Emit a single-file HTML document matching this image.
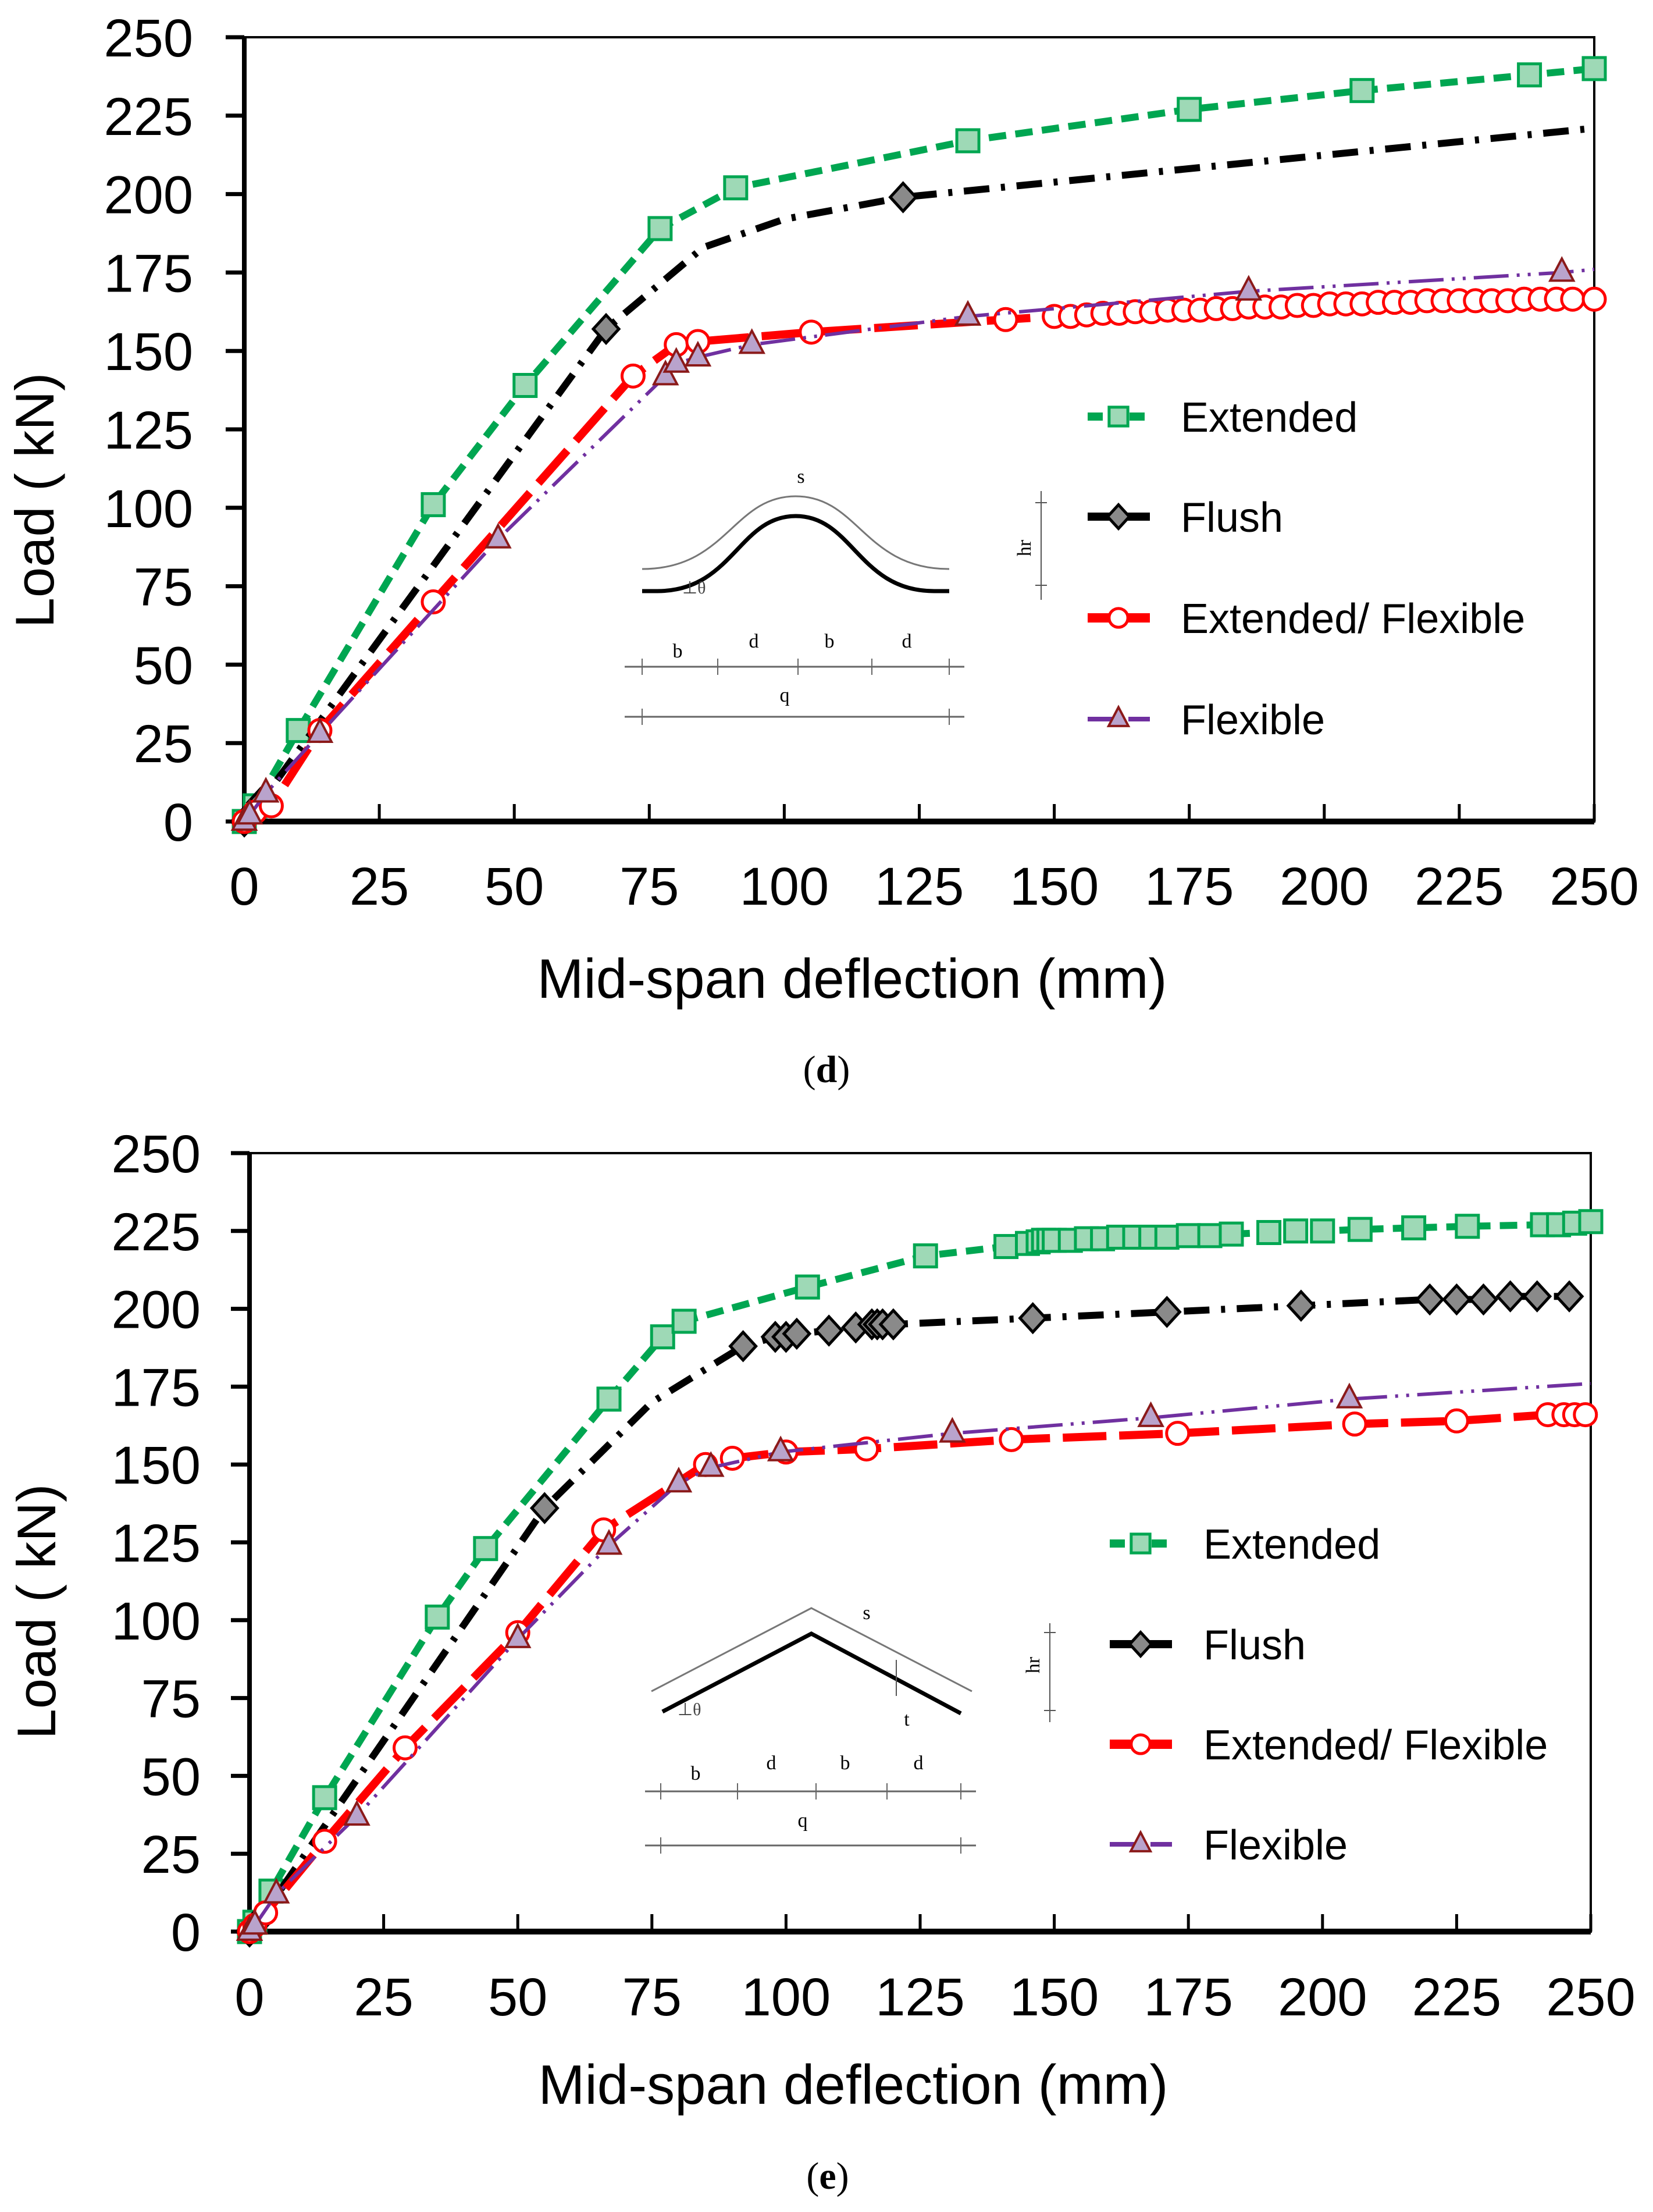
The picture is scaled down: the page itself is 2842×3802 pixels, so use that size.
<!DOCTYPE html>
<html><head><meta charset="utf-8"><title>Load vs mid-span deflection</title>
<style>html,body{margin:0;padding:0;background:#fff}svg{display:block}</style></head>
<body>
<svg id="fig" xmlns="http://www.w3.org/2000/svg" width="2842" height="3802" viewBox="0 0 2842 3802" font-family="'Liberation Sans', Arial, sans-serif">
<rect width="2842" height="3802" fill="#fff"/>
<g id="chartD"></g>
<g id="chartE"></g>

<!-- inset d -->
<g fill="none" font-family="'Liberation Serif', serif" font-size="34">
  <path d="M1104 978 C1250 978 1260 853 1368 853 C1476 853 1486 978 1632 978" stroke="#777" stroke-width="3"/>
  <path d="M1104 1016 L1130 1016 C1260 1016 1270 887 1368 887 C1466 887 1476 1016 1606 1016 L1632 1016" stroke="#000" stroke-width="7"/>
  <text x="1377" y="830" fill="#000" text-anchor="middle">s</text>
  <text x="1173" y="1020" fill="#444" font-size="30">⊥θ</text>
  <line x1="1790" y1="844" x2="1790" y2="1031" stroke="#555" stroke-width="2"/>
  <line x1="1780" y1="864" x2="1800" y2="864" stroke="#555" stroke-width="2"/>
  <line x1="1780" y1="1006" x2="1800" y2="1006" stroke="#555" stroke-width="2"/>
  <text x="0" y="0" fill="#000" transform="translate(1772 942) rotate(-90)" text-anchor="middle">hr</text>
  <line x1="1074" y1="1146" x2="1658" y2="1146" stroke="#666" stroke-width="3"/>
  <g stroke="#666" stroke-width="2"><line x1="1104" y1="1132" x2="1104" y2="1160"/><line x1="1234" y1="1132" x2="1234" y2="1160"/><line x1="1372" y1="1132" x2="1372" y2="1160"/><line x1="1499" y1="1132" x2="1499" y2="1160"/><line x1="1632" y1="1132" x2="1632" y2="1160"/></g>
  <text x="1165" y="1130" fill="#000" text-anchor="middle">b</text><text x="1296" y="1113" fill="#000" text-anchor="middle">d</text>
  <text x="1426" y="1113" fill="#000" text-anchor="middle">b</text><text x="1559" y="1113" fill="#000" text-anchor="middle">d</text>
  <line x1="1074" y1="1232" x2="1658" y2="1232" stroke="#666" stroke-width="3"/>
  <g stroke="#666" stroke-width="2"><line x1="1104" y1="1218" x2="1104" y2="1246"/><line x1="1632" y1="1218" x2="1632" y2="1246"/></g>
  <text x="1349" y="1206" fill="#000" text-anchor="middle">q</text>
</g>

<!-- inset e -->
<g fill="none" font-family="'Liberation Serif', serif" font-size="34">
  <path d="M1120 2907 L1395 2764 L1671 2907" stroke="#777" stroke-width="3"/>
  <path d="M1139 2942 L1395 2808 L1652 2945" stroke="#000" stroke-width="7"/>
  <line x1="1541" y1="2853" x2="1541" y2="2915" stroke="#555" stroke-width="2"/>
  <text x="1490" y="2783" fill="#000" text-anchor="middle">s</text>
  <text x="1559" y="2966" fill="#000" text-anchor="middle">t</text>
  <text x="1165" y="2948" fill="#444" font-size="30">⊥θ</text>
  <line x1="1805" y1="2790" x2="1805" y2="2960" stroke="#555" stroke-width="2"/>
  <line x1="1795" y1="2806" x2="1815" y2="2806" stroke="#555" stroke-width="2"/>
  <line x1="1795" y1="2940" x2="1815" y2="2940" stroke="#555" stroke-width="2"/>
  <text x="0" y="0" fill="#000" transform="translate(1787 2862) rotate(-90)" text-anchor="middle">hr</text>
  <line x1="1109" y1="3079" x2="1678" y2="3079" stroke="#666" stroke-width="3"/>
  <g stroke="#666" stroke-width="2"><line x1="1136" y1="3065" x2="1136" y2="3093"/><line x1="1268" y1="3065" x2="1268" y2="3093"/><line x1="1403" y1="3065" x2="1403" y2="3093"/><line x1="1525" y1="3065" x2="1525" y2="3093"/><line x1="1652" y1="3065" x2="1652" y2="3093"/></g>
  <text x="1196" y="3059" fill="#000" text-anchor="middle">b</text><text x="1326" y="3041" fill="#000" text-anchor="middle">d</text>
  <text x="1453" y="3041" fill="#000" text-anchor="middle">b</text><text x="1579" y="3041" fill="#000" text-anchor="middle">d</text>
  <line x1="1109" y1="3172" x2="1678" y2="3172" stroke="#666" stroke-width="3"/>
  <g stroke="#666" stroke-width="2"><line x1="1136" y1="3158" x2="1136" y2="3186"/><line x1="1652" y1="3158" x2="1652" y2="3186"/></g>
  <text x="1380" y="3140" fill="#000" text-anchor="middle">q</text>
</g>

<text x="1421" y="1860" font-family="'Liberation Serif', serif" font-size="66" text-anchor="middle">(<tspan font-weight="bold">d</tspan>)</text>
<text x="1423" y="3762" font-family="'Liberation Serif', serif" font-size="66" text-anchor="middle">(<tspan font-weight="bold">e</tspan>)</text>
</svg>
<script>
// ---- shared axis data ----
const xTicks = [0,25,50,75,100,125,150,175,200,225,250];
const yTicks = [0,25,50,75,100,125,150,175,200,225,250];
const seriesNames = ["Extended","Flush","Extended/ Flexible","Flexible"];

// ---- chart (d) data ----
const dExtX = [0,2,10,35,52,77,91,134,175,207,238,250];
const dExtY = [0,5,29,101,139,189,202,217,227,233,238,240];
const dFluX = [0,3,67,85,100,122,250];
const dFluY = [0,6,157,183,192,199,221];
const dFluM = [1,1,1,0,0,1,0];
const dEfX = [0,2,5,14,35,72,80,84,105,141,150,153,156,159,162,165,168,171,174,177,180,183,186,189,192,195,198,201,204,207,210,213,216,219,222,225,228,231,234,237,240,243,246,250];
const dEfY = [0,3,5,29,70,142,152,153,156,160,161,161,161.5,162,162,162.5,162.5,163,163,163,163.5,163.5,164,164,164,164.5,164.5,165,165,165,165.5,165.5,165.5,166,166,166,166,166,166,166.5,166.5,166.5,166.5,166.5];
const dFlX = [0,1,4,14,47,78,80,84,94,134,186,244,250];
const dFlY = [0,2,9,28,90,142,146,148,152,161,169,175,176];
const dFlM = [1,1,1,1,1,1,1,1,1,1,1,1,0];

// ---- chart (e) data ----
const eExtX = [0,1,4,14,35,44,67,77,81,104,126,141,145,147,148,149,150,153,156,159,162,165,168,171,175,179,183,190,195,200,207,217,227,241,244,247,250];
const eExtY = [0,3,13,43,101,123,171,191,196,207,217,220,221,221.5,222,222,222,222,222.5,222.5,223,223,223,223,223.5,223.5,224,224.5,225,225,225.5,226,226.5,227,227,227.5,228];
const eFluX = [0,2,55,75,92,98,100,102,108,113,116,117,118,120,146,171,196,220,225,230,235,240,246,250];
const eFluY = [0,4,136,170,188,191,191,192,193,194,195,195,195,195,197,199,201,203,203,203,204,204,204,204];
const eFluM = [1,1,1,0,1,1,1,1,1,1,1,1,1,1,1,1,1,1,1,1,1,1,1,0];
const eEfX = [0,1,3,14,29,50,66,85,90,100,115,142,173,206,225,242,245,247,249];
const eEfY = [0,2,6,29,59,96,129,150,152,154,155,158,160,163,164,166,166,166,166];
const eFlX = [0,1,5,20,50,67,80,86,99,131,168,205,250];
const eFlY = [0,2,12,37,94,124,144,149,154,160,165,171,176];
const eFlM = [1,1,1,1,1,1,1,1,1,1,1,1,0];

const NS = "http://www.w3.org/2000/svg";
function mk(tag, attrs, parent){ const e=document.createElementNS(NS,tag); for(const k in attrs) e.setAttribute(k,attrs[k]); parent.appendChild(e); return e; }

const styles = [
  {color:"#00a651", w:12, dash:"30 16", marker:"square"},
  {color:"#000000", w:12, dash:"44 20 7 20", marker:"diamond"},
  {color:"#ff0000", w:14, dash:"75 22", marker:"circle"},
  {color:"#7030a0", w:6, dash:"60 14 5 14 5 14", marker:"triangle"}
];

function drawMarker(g, kind, cx, cy, s){
  s = s || 1;
  let m;
  if(kind==="square"){ m=mk("rect",{x:cx-19*s,y:cy-19*s,width:38*s,height:38*s,fill:"#9ed9b6",stroke:"#00a651","stroke-width":5},g); }
  else if(kind==="diamond"){ m=mk("polygon",{points:`${cx},${cy-24*s} ${cx+22*s},${cy} ${cx},${cy+24*s} ${cx-22*s},${cy}`,fill:"#8a8a8a",stroke:"#000","stroke-width":5},g); }
  else if(kind==="circle"){ m=mk("circle",{cx:cx,cy:cy,r:19*s,fill:"#fff",stroke:"#ff0000","stroke-width":5},g); }
  else { m=mk("polygon",{points:`${cx},${cy-24*s} ${cx+20*s},${cy+14*s} ${cx-20*s},${cy+14*s}`,fill:"#b9a3cc",stroke:"#8b1a1a","stroke-width":4},g); }
  return m;
}

function drawChart(gid, L, R, T, B, ylabRight, series, legend, xLabBase, xTitle, yTitle){
  const g = document.getElementById(gid);
  const sx = v => L + (R-L)*v/250;
  const sy = v => B - (B-T)*v/250;
  const fr = mk("rect",{x:L,y:T,width:R-L,height:B-T,fill:"none",stroke:"#000","stroke-width":4},g);
  
  
  const ya = mk("line",{x1:L,y1:T,x2:L,y2:B,stroke:"#000","stroke-width":8},g);
  
  
  const xa = mk("line",{x1:L-4,y1:B,x2:R,y2:B,stroke:"#000","stroke-width":10},g);
  
  
  xTicks.forEach(v=>{
    const t = mk("line",{x1:sx(v),y1:B,x2:sx(v),y2:B-30,stroke:"#000","stroke-width":5},g);
    
    
    const lb = mk("text",{x:sx(v),y:xLabBase,"font-size":92,"text-anchor":"middle"},g);
    lb.textContent = v;
    
    
  });
  yTicks.forEach(v=>{
    const t = mk("line",{x1:L-32,y1:sy(v),x2:L,y2:sy(v),stroke:"#000","stroke-width":7},g);
    
    
    const lb = mk("text",{x:ylabRight,y:sy(v)+33,"font-size":92,"text-anchor":"end"},g);
    lb.textContent = v;
    
    
  });
  const xt = mk("text",{x:xTitle[0],y:xTitle[1],"font-size":96,"text-anchor":"middle"},g);
  xt.textContent = "Mid-span deflection (mm)";
  
  
  const yt = mk("text",{x:0,y:0,"font-size":94,"text-anchor":"middle",transform:`translate(${yTitle[0]} ${yTitle[1]}) rotate(-90)`},g);
  yt.textContent = "Load ( kN)";
  
  
  series.forEach((s,i)=>{
    const st = styles[i];
    const sg = mk("g",{},g);
    
    
    const pts = s.x.map((xv,k)=>sx(xv)+","+sy(s.y[k])).join(" ");
    const pl = mk("polyline",{points:pts,fill:"none",stroke:st.color,"stroke-width":st.w,"stroke-dasharray":st.dash,"stroke-linejoin":"round"},sg);
    
    
    s.x.forEach((xv,k)=>{
      if(s.m && !s.m[k]) return;
      const m = drawMarker(sg, st.marker, sx(xv), sy(s.y[k]));
      
      
    });
  });
  const lg = mk("g",{},g);
  
  
  seriesNames.forEach((n,i)=>{
    const st = styles[i];
    const y = legend.rows[i];
    const eg = mk("g",{},lg);
    
    
    mk("line",{x1:legend.mx,y1:y,x2:legend.mx+107,y2:y,stroke:st.color,"stroke-width":st.w+2,"stroke-dasharray":i===3?"45 10 5 10":(i===0?"26 10":"none")},eg);
    drawMarker(eg, st.marker, legend.mx+53, y, 0.85);
    const tx = mk("text",{x:legend.tx,y:y+26,"font-size":72},eg);
    tx.textContent = n;
  });
}

drawChart("chartD", 420, 2741, 64, 1412, 332,
  [{x:dExtX,y:dExtY},{x:dFluX,y:dFluY,m:dFluM},{x:dEfX,y:dEfY},{x:dFlX,y:dFlY,m:dFlM}],
  {mx:1870, tx:2030, rows:[716,888,1062,1236]}, 1555, [1465,1715], [92,860]);
drawChart("chartE", 429, 2735, 1982, 3320, 345,
  [{x:eExtX,y:eExtY},{x:eFluX,y:eFluY,m:eFluM},{x:eEfX,y:eEfY},{x:eFlX,y:eFlY,m:eFlM}],
  {mx:1908, tx:2069, rows:[2653,2826,2998,3170]}, 3464, [1467,3616], [95,2770]);
</script>
</body></html>
